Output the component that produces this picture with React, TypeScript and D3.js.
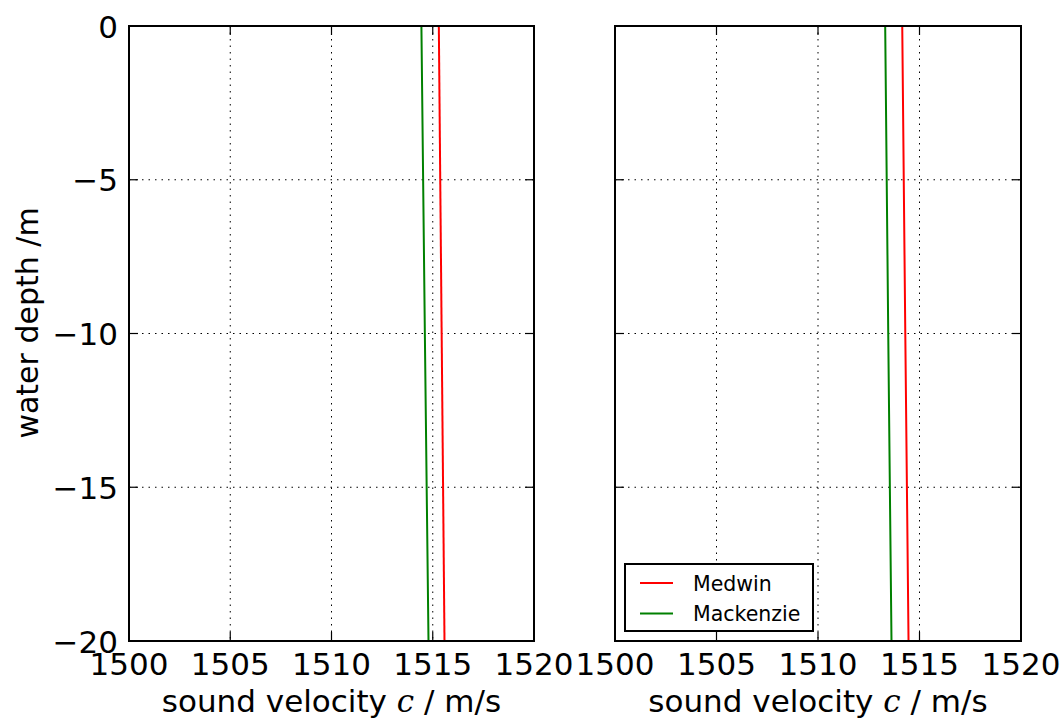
import React from "react";
import * as d3 from "d3";

const depths = [0, -10, -20];
const medwinLeft = [1515.3, 1515.44, 1515.58];
const mackenzieLeft = [1514.44, 1514.61, 1514.79];
const medwinRight = [1514.15, 1514.3, 1514.46];
const mackenzieRight = [1513.31, 1513.46, 1513.62];
const xTicks = [1500, 1505, 1510, 1515, 1520];
const yTicks = [0, -5, -10, -15, -20];
const seriesNames = ["Medwin", "Mackenzie"];
const seriesColors = ["#ff0000", "#008000"];

const W = 1064, H = 718;
const top = 26, bottom = 641;
const panels = [
  { x0: 129, x1: 534, data: [medwinLeft, mackenzieLeft], labels: true, legend: false },
  { x0: 615, x1: 1021, data: [medwinRight, mackenzieRight], labels: false, legend: true },
];
const font = "'DejaVu Sans', sans-serif";
const fs = 31;

function Panel({ p }: { p: typeof panels[0] }) {
  const x = d3.scaleLinear().domain([1500, 1520]).range([p.x0, p.x1]);
  const y = d3.scaleLinear().domain([0, -20]).range([top, bottom]);
  const line = d3.line<[number, number]>().x(d => x(d[0])).y(d => y(d[1]));
  const tl = 9;
  return (
    <g>
      {xTicks.slice(1, -1).map(t => (
        <line key={"gx" + t} x1={x(t)} x2={x(t)} y1={top} y2={bottom} stroke="#000" strokeWidth={1} strokeDasharray="1.5,5" />
      ))}
      {yTicks.slice(1, -1).map(t => (
        <line key={"gy" + t} x1={p.x0} x2={p.x1} y1={y(t)} y2={y(t)} stroke="#000" strokeWidth={1} strokeDasharray="1.5,5" />
      ))}
      {p.data.map((s, i) => (
        <path key={i} d={line(depths.map((dd, j) => [s[j], dd]) as [number, number][]) || ""} fill="none" stroke={seriesColors[i]} strokeWidth={2} />
      ))}
      {xTicks.map(t => (
        <g key={"tx" + t}>
          <line x1={x(t)} x2={x(t)} y1={bottom} y2={bottom - tl} stroke="#000" strokeWidth={1.2} />
          <line x1={x(t)} x2={x(t)} y1={top} y2={top + tl} stroke="#000" strokeWidth={1.2} />
          <text x={x(t)} y={675} textAnchor="middle" fontFamily={font} fontSize={fs} fill="#000">{t}</text>
        </g>
      ))}
      {yTicks.map(t => (
        <g key={"ty" + t}>
          <line x1={p.x0} x2={p.x0 + tl} y1={y(t)} y2={y(t)} stroke="#000" strokeWidth={1.2} />
          <line x1={p.x1} x2={p.x1 - tl} y1={y(t)} y2={y(t)} stroke="#000" strokeWidth={1.2} />
          {p.labels && (
            <text x={118} y={y(t) + 11.5} textAnchor="end" fontFamily={font} fontSize={fs} fill="#000">
              {t < 0 ? "\u2212" + Math.abs(t) : t}
            </text>
          )}
        </g>
      ))}
      <rect x={p.x0} y={top} width={p.x1 - p.x0} height={bottom - top} fill="none" stroke="#000" strokeWidth={2} />
      <text x={(p.x0 + p.x1) / 2} y={712} textAnchor="middle" fontFamily={font} fontSize={fs} fill="#000">
        sound velocity <tspan fontFamily="'DejaVu Serif', serif" fontStyle="italic">c</tspan> / m/s
      </text>
      {p.legend && (
        <g>
          <rect x={625} y={564} width={188} height={67} fill="#fff" stroke="#000" strokeWidth={2} />
          {seriesNames.map((n, i) => (
            <g key={n}>
              <line x1={640} x2={673} y1={583 + i * 30.5} y2={583 + i * 30.5} stroke={seriesColors[i]} strokeWidth={2} />
              <text x={693} y={583 + i * 30.5 + 7.5} fontFamily={font} fontSize={20.5} fill="#000">{n}</text>
            </g>
          ))}
        </g>
      )}
    </g>
  );
}

export default function App() {
  return (
    <svg width={W} height={H} style={{ position: "absolute", left: 0, top: 0, background: "#fff" }}>
      <rect width={W} height={H} fill="#fff" />
      {panels.map((p, i) => <Panel key={i} p={p} />)}
      <text transform={`translate(38,323) rotate(-90)`} textAnchor="middle" fontFamily={font} fontSize={30} fill="#000">water depth /m</text>
    </svg>
  );
}
